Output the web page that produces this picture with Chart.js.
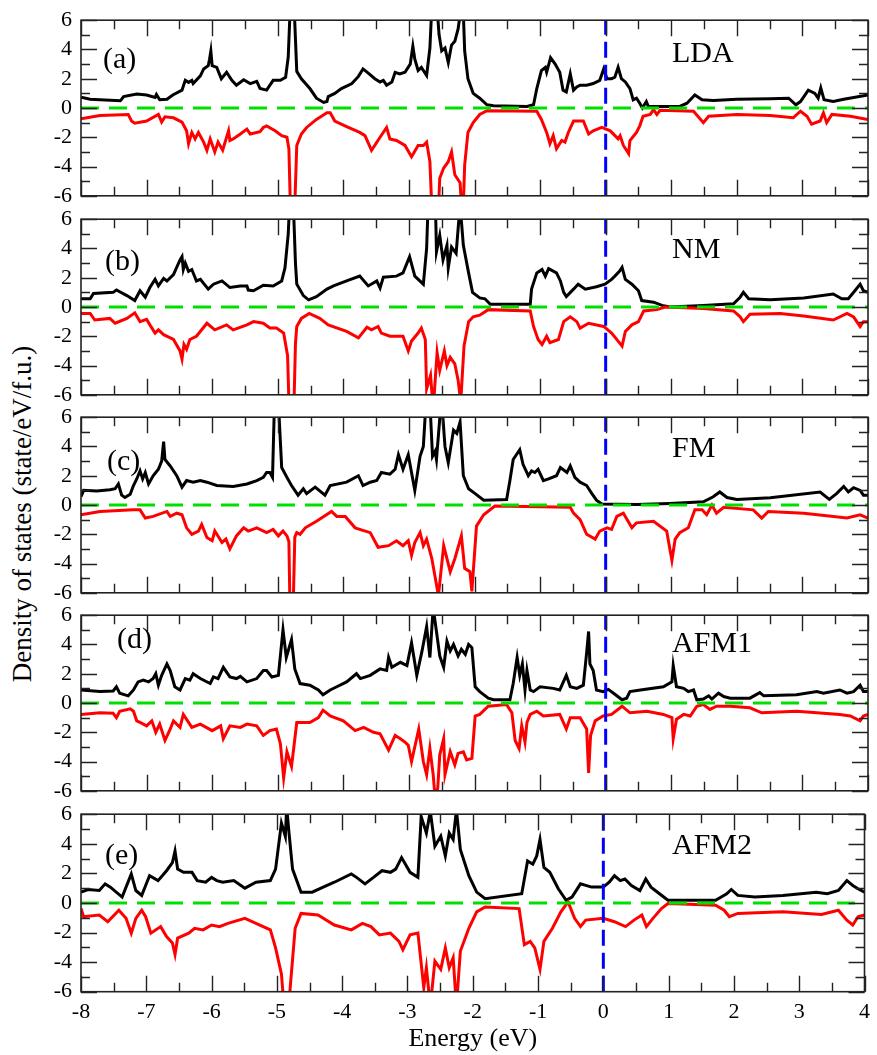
<!DOCTYPE html>
<html>
<head>
<meta charset="utf-8">
<script src="https://cdn.jsdelivr.net/npm/chart.js@4/dist/chart.umd.min.js"></script>
<style>
  html, body { margin: 0; padding: 0; background: #fff; overflow: hidden; }
  #wrap { position: relative; width: 877px; height: 1055px; }
  #wrap canvas { position: absolute; left: 0; }
  #ytitle {
    position: absolute; left: 22px; top: 514px;
    transform: translate(-50%, -50%) rotate(-90deg);
    font: 27px "Liberation Serif", "DejaVu Serif", serif;
    white-space: nowrap; color: #000;
  }
</style>
</head>
<body>
<div id="wrap">
  <div id="ytitle">Density of states (state/eV/f.u.)</div>
</div>
<script>
// Spin-resolved DOS, [energy (eV), DOS] pairs; up = black, down = red
const upLDA = [[-8,0.73],[-7.86,0.6],[-7.71,0.56],[-7.4,0.49],[-7.35,0.78],[-7.15,0.96],[-7.0,0.89],[-6.87,0.72],[-6.85,0.92],[-6.8,0.56],[-6.69,0.6],[-6.6,0.89],[-6.46,1.22],[-6.41,1.89],[-6.36,1.75],[-6.31,1.89],[-6.29,1.67],[-6.18,2.2],[-6.13,2.67],[-6.06,2.89],[-6.04,3.33],[-6.02,3.89],[-6.0,2.9],[-5.93,2.78],[-5.86,2.0],[-5.78,2.44],[-5.7,1.89],[-5.63,1.56],[-5.52,1.93],[-5.42,1.67],[-5.32,1.82],[-5.27,1.33],[-5.17,1.22],[-5.07,1.89],[-4.96,1.89],[-4.88,2.1],[-4.84,3.5],[-4.8,8],[-4.76,8],[-4.71,2.5],[-4.64,2.0],[-4.51,1.33],[-4.41,0.67],[-4.3,0.38],[-4.25,0.44],[-4.23,0.78],[-4.13,1.0],[-4.03,1.33],[-3.95,1.49],[-3.87,1.67],[-3.77,2.16],[-3.7,2.67],[-3.62,2.38],[-3.52,2.0],[-3.44,1.78],[-3.39,1.89],[-3.34,1.56],[-3.26,1.78],[-3.21,2.44],[-3.14,2.33],[-3.06,2.44],[-2.98,3.0],[-2.94,4.22],[-2.91,3.33],[-2.86,2.56],[-2.81,2.78],[-2.73,2.22],[-2.68,4.1],[-2.64,8],[-2.6,7],[-2.56,6.2],[-2.54,5.0],[-2.5,3.9],[-2.45,4.1],[-2.4,3.1],[-2.35,4.3],[-2.3,4.56],[-2.25,5.4],[-2.2,7],[-2.17,6.5],[-2.15,3.9],[-2.1,2.0],[-2.02,1.0],[-1.92,0.67],[-1.81,0.22],[-1.71,0.16],[-1.2,0.11],[-1.1,0.22],[-1.05,1.33],[-0.98,2.56],[-0.92,2.78],[-0.9,2.44],[-0.84,3.44],[-0.77,3.0],[-0.7,2.44],[-0.65,1.22],[-0.6,1.1],[-0.54,2.33],[-0.49,1.22],[-0.44,1.44],[-0.39,1.56],[-0.29,1.56],[-0.19,1.67],[-0.09,1.89],[-0.03,2.67],[0.02,2.0],[0.09,2.0],[0.14,2.1],[0.19,2.78],[0.24,2.0],[0.3,1.78],[0.37,1.33],[0.42,0.56],[0.47,0.67],[0.52,0.33],[0.56,0.0],[0.62,0.44],[0.65,0.11],[0.83,0.11],[1.13,0.11],[1.24,0.33],[1.36,0.89],[1.47,0.56],[1.64,0.51],[2.0,0.6],[2.51,0.64],[2.79,0.67],[2.9,0.22],[2.97,0.44],[3.09,1.22],[3.19,1.0],[3.24,0.67],[3.28,1.38],[3.33,0.56],[3.47,0.44],[3.63,0.6],[4.0,0.89]];
const dnLDA = [[-8,-0.73],[-7.71,-0.51],[-7.28,-0.44],[-7.23,-0.89],[-7.18,-1.04],[-7.0,-0.89],[-6.82,-0.44],[-6.77,-0.96],[-6.72,-0.6],[-6.59,-0.67],[-6.46,-0.96],[-6.39,-1.56],[-6.36,-2.44],[-6.31,-1.67],[-6.26,-2.11],[-6.21,-1.67],[-6.13,-2.33],[-6.08,-2.89],[-6.03,-2.11],[-5.96,-3.0],[-5.91,-2.33],[-5.84,-2.89],[-5.75,-1.56],[-5.73,-2.22],[-5.68,-2.11],[-5.57,-1.78],[-5.47,-1.44],[-5.42,-1.78],[-5.27,-1.62],[-5.22,-1.33],[-5.17,-1.22],[-5.04,-1.56],[-4.94,-1.89],[-4.86,-2.0],[-4.83,-2.8],[-4.8,-8],[-4.75,-8],[-4.71,-2.56],[-4.64,-1.78],[-4.56,-1.33],[-4.41,-0.78],[-4.25,-0.33],[-4.2,-0.33],[-4.13,-0.89],[-3.95,-1.27],[-3.75,-1.67],[-3.67,-1.89],[-3.57,-2.89],[-3.44,-2.0],[-3.34,-1.33],[-3.29,-2.11],[-3.19,-2.22],[-3.06,-2.56],[-2.96,-3.33],[-2.86,-2.56],[-2.78,-2.56],[-2.73,-2.33],[-2.68,-3.67],[-2.64,-8],[-2.56,-8],[-2.53,-4.8],[-2.47,-4.1],[-2.4,-3.67],[-2.35,-3.0],[-2.3,-4.56],[-2.22,-5.1],[-2.18,-8],[-2.15,-3.9],[-2.1,-1.67],[-2.02,-1.0],[-1.92,-0.44],[-1.81,-0.18],[-1.05,-0.22],[-0.98,-0.78],[-0.9,-1.67],[-0.85,-2.44],[-0.8,-1.89],[-0.75,-2.78],[-0.67,-2.22],[-0.62,-2.33],[-0.57,-1.67],[-0.49,-0.89],[-0.34,-0.89],[-0.26,-1.78],[-0.19,-1.56],[-0.06,-1.33],[0.07,-1.56],[0.19,-2.11],[0.22,-1.9],[0.27,-2.56],[0.35,-3.11],[0.37,-2.22],[0.47,-1.67],[0.52,-1.22],[0.57,-0.56],[0.68,-0.44],[0.73,-0.11],[0.78,-0.44],[0.83,-0.16],[1.34,-0.22],[1.49,-1.0],[1.57,-0.56],[2.0,-0.44],[2.51,-0.51],[2.86,-0.67],[2.97,-0.22],[3.07,-0.56],[3.14,-1.11],[3.27,-0.89],[3.32,-0.33],[3.37,-1.0],[3.45,-0.44],[3.73,-0.56],[4.0,-0.78]];

const upNM = [[-8,0.56],[-7.86,0.56],[-7.81,0.93],[-7.51,1.0],[-7.46,1.16],[-7.3,0.78],[-7.18,0.44],[-7.1,1.11],[-7.02,0.67],[-6.95,1.33],[-6.87,1.89],[-6.82,1.44],[-6.74,1.96],[-6.69,1.78],[-6.59,2.22],[-6.49,3.22],[-6.46,3.44],[-6.44,2.56],[-6.41,3.0],[-6.36,2.44],[-6.31,2.56],[-6.24,1.78],[-6.18,1.89],[-6.06,1.22],[-5.98,1.56],[-5.85,1.78],[-5.73,1.33],[-5.57,1.44],[-5.47,1.44],[-5.45,1.16],[-5.37,1.11],[-5.22,1.49],[-5.07,1.44],[-4.94,1.78],[-4.89,2.67],[-4.84,5],[-4.81,8],[-4.77,8],[-4.73,3],[-4.71,1.56],[-4.61,0.78],[-4.53,0.49],[-4.41,0.71],[-4.25,1.22],[-4.15,1.44],[-3.95,1.78],[-3.75,2.11],[-3.62,1.44],[-3.49,1.78],[-3.44,1.29],[-3.39,2.04],[-3.19,2.11],[-3.09,2.33],[-2.99,3.44],[-2.91,2.11],[-2.78,1.56],[-2.73,4],[-2.7,8],[-2.6,8],[-2.58,3.78],[-2.53,4.9],[-2.48,3.22],[-2.42,4.22],[-2.4,2.67],[-2.35,4.1],[-2.28,3.67],[-2.22,7],[-2.17,4.22],[-2.09,2.33],[-2.03,1.0],[-1.92,0.62],[-1.84,0.56],[-1.76,0.18],[-1.15,0.18],[-1.13,1.22],[-1.05,2.33],[-0.97,2.56],[-0.92,2.11],[-0.87,2.62],[-0.75,2.33],[-0.69,1.78],[-0.64,1.0],[-0.6,0.71],[-0.49,1.22],[-0.42,1.56],[-0.31,1.22],[-0.14,1.38],[-0.01,1.56],[0.09,1.89],[0.14,2.11],[0.21,2.44],[0.25,2.71],[0.3,1.89],[0.4,1.56],[0.5,1.11],[0.55,0.44],[0.73,0.33],[0.86,0.11],[0.98,0.0],[1.49,0.11],[1.95,0.22],[2.05,0.67],[2.1,1.0],[2.18,0.56],[2.51,0.49],[3.02,0.62],[3.47,0.89],[3.6,0.56],[3.7,0.56],[3.8,1.11],[3.88,1.56],[3.93,1.11],[4.0,1.0]];
const dnNM = [[-8,-0.44],[-7.86,-0.44],[-7.79,-0.89],[-7.56,-0.78],[-7.48,-1.11],[-7.3,-0.78],[-7.18,-0.4],[-7.1,-1.0],[-7.0,-0.84],[-6.95,-1.22],[-6.87,-1.78],[-6.82,-1.56],[-6.74,-1.89],[-6.59,-2.22],[-6.49,-3.0],[-6.46,-3.56],[-6.43,-2.56],[-6.39,-2.89],[-6.34,-2.22],[-6.24,-2.0],[-6.08,-1.11],[-5.96,-1.56],[-5.78,-1.22],[-5.68,-1.56],[-5.47,-1.22],[-5.37,-1.0],[-5.22,-1.11],[-5.12,-1.44],[-5.02,-1.44],[-4.91,-1.78],[-4.85,-3.33],[-4.82,-8],[-4.76,-8],[-4.73,-2.5],[-4.71,-1.33],[-4.64,-0.78],[-4.52,-0.44],[-4.36,-0.78],[-4.23,-1.22],[-3.95,-1.67],[-3.77,-2.11],[-3.64,-1.38],[-3.57,-1.56],[-3.47,-1.33],[-3.42,-1.78],[-3.29,-2.0],[-3.09,-2.0],[-3.01,-3.0],[-2.96,-2.33],[-2.86,-1.78],[-2.81,-1.44],[-2.75,-2.22],[-2.73,-5.6],[-2.67,-4.67],[-2.63,-7],[-2.57,-3.11],[-2.53,-4.33],[-2.46,-3.0],[-2.42,-4.0],[-2.37,-3.44],[-2.3,-3.89],[-2.25,-5.0],[-2.21,-6.5],[-2.16,-2.67],[-2.09,-1.0],[-2.02,-0.67],[-1.92,-0.56],[-1.79,-0.18],[-1.15,-0.27],[-1.1,-1.33],[-1.03,-2.22],[-0.97,-2.56],[-0.9,-2.0],[-0.85,-2.44],[-0.72,-2.22],[-0.64,-1.0],[-0.54,-0.67],[-0.44,-1.0],[-0.39,-1.44],[-0.26,-1.11],[-0.03,-1.33],[0.09,-1.78],[0.19,-2.33],[0.25,-2.67],[0.3,-1.67],[0.4,-1.22],[0.5,-1.0],[0.58,-0.27],[0.78,-0.18],[0.91,0],[1.49,-0.11],[1.95,-0.27],[2.05,-0.67],[2.1,-1.0],[2.2,-0.49],[2.66,-0.44],[3.02,-0.62],[3.47,-0.89],[3.68,-0.44],[3.78,-0.67],[3.88,-1.33],[3.93,-1.0],[4.0,-1.0]];

const upFM = [[-8,0.56],[-7.96,1.0],[-7.76,0.96],[-7.56,1.04],[-7.48,1.11],[-7.43,1.44],[-7.38,0.67],[-7.33,0.51],[-7.25,0.73],[-7.2,1.33],[-7.15,1.78],[-7.1,2.33],[-7.06,1.78],[-7.02,2.22],[-6.97,1.44],[-6.9,2.0],[-6.82,2.44],[-6.77,3.0],[-6.74,4.33],[-6.72,3.11],[-6.64,2.67],[-6.54,2.0],[-6.46,1.22],[-6.39,1.67],[-6.29,1.56],[-6.18,1.67],[-6.08,1.56],[-5.93,1.33],[-5.68,1.27],[-5.47,1.44],[-5.32,1.67],[-5.22,1.89],[-5.17,2.22],[-5.12,2.22],[-5.08,1.89],[-5.05,7],[-4.99,7],[-4.94,2.56],[-4.86,1.89],[-4.79,1.33],[-4.69,0.67],[-4.61,1.11],[-4.56,0.78],[-4.43,1.22],[-4.28,0.67],[-4.2,1.33],[-3.95,1.56],[-3.77,2.0],[-3.7,1.33],[-3.59,1.56],[-3.49,1.67],[-3.42,2.22],[-3.29,2.11],[-3.21,2.44],[-3.16,3.44],[-3.09,2.44],[-3.01,3.44],[-2.91,1.0],[-2.83,3.33],[-2.78,4.0],[-2.74,7],[-2.68,7],[-2.64,3.33],[-2.6,3.67],[-2.58,3.11],[-2.51,7],[-2.49,6.5],[-2.45,4.0],[-2.4,2.89],[-2.32,5.11],[-2.27,4.89],[-2.22,5.67],[-2.17,2.0],[-2.09,1.11],[-1.99,0.78],[-1.86,0.33],[-1.51,0.38],[-1.46,1.67],[-1.41,3.11],[-1.31,3.78],[-1.26,2.78],[-1.18,2.0],[-1.13,2.33],[-1.08,2.22],[-1.03,2.44],[-0.95,1.67],[-0.87,1.78],[-0.75,2.0],[-0.69,2.56],[-0.59,2.22],[-0.54,2.67],[-0.47,1.89],[-0.39,1.56],[-0.29,1.33],[-0.21,0.78],[-0.14,0.33],[-0.06,0.07],[0.47,0.04],[0.98,0.11],[1.49,0.22],[1.64,0.56],[1.74,0.89],[1.85,0.51],[2.0,0.38],[2.51,0.49],[3.27,0.89],[3.41,0.38],[3.52,0.78],[3.63,1.27],[3.7,0.89],[3.78,1.18],[3.88,1.0],[3.93,0.67],[4.0,0.67]];
const dnFM = [[-8,-0.67],[-7.71,-0.44],[-7.2,-0.33],[-7.1,-0.33],[-7.02,-0.89],[-6.9,-0.78],[-6.69,-0.44],[-6.64,-0.78],[-6.54,-0.56],[-6.46,-0.67],[-6.39,-1.56],[-6.31,-2.0],[-6.21,-1.78],[-6.16,-1.33],[-6.08,-2.22],[-6.0,-2.44],[-5.96,-1.78],[-5.85,-2.56],[-5.79,-2.33],[-5.73,-3.0],[-5.63,-2.11],[-5.52,-1.56],[-5.45,-1.78],[-5.32,-1.56],[-5.17,-1.89],[-5.07,-1.67],[-4.99,-2.11],[-4.92,-1.78],[-4.86,-2.11],[-4.83,-2.5],[-4.81,-8],[-4.77,-8],[-4.74,-2.2],[-4.71,-1.89],[-4.66,-2.0],[-4.58,-1.56],[-4.41,-1.11],[-4.18,-0.44],[-4.1,-0.78],[-3.97,-0.78],[-3.82,-1.56],[-3.59,-1.89],[-3.47,-2.89],[-3.31,-2.78],[-3.19,-2.44],[-3.09,-2.78],[-3.01,-2.44],[-2.96,-3.44],[-2.91,-2.56],[-2.83,-1.89],[-2.78,-2.78],[-2.73,-2.33],[-2.65,-3.67],[-2.55,-6.2],[-2.47,-2.78],[-2.37,-4.56],[-2.3,-3.67],[-2.2,-2.11],[-2.15,-4.33],[-2.07,-4.56],[-2.04,-5.9],[-1.97,-1.44],[-1.86,-0.67],[-1.69,-0.07],[-0.54,-0.16],[-0.49,-0.56],[-0.39,-1.0],[-0.29,-2.0],[-0.16,-2.33],[-0.09,-1.78],[0.02,-1.56],[0.09,-1.67],[0.17,-0.78],[0.27,-0.56],[0.4,-1.56],[0.47,-1.22],[0.73,-1.11],[0.93,-1.78],[1.01,-3.78],[1.06,-2.33],[1.13,-1.89],[1.26,-1.56],[1.36,-0.33],[1.47,-0.33],[1.54,-0.67],[1.62,0],[1.69,-0.56],[1.8,-0.16],[2.25,-0.33],[2.38,-0.89],[2.48,-0.44],[3.02,-0.56],[3.68,-0.89],[3.88,-0.67],[4.0,-0.89]];

const upAFM1 = [[-8,0.89],[-7.71,0.78],[-7.51,0.82],[-7.46,1.11],[-7.41,0.67],[-7.28,0.49],[-7.2,0.89],[-7.13,1.44],[-7.05,1.56],[-6.97,1.44],[-6.9,1.67],[-6.86,2.0],[-6.82,1.22],[-6.77,1.89],[-6.69,2.67],[-6.64,2.22],[-6.57,1.11],[-6.49,0.89],[-6.41,1.67],[-6.34,1.56],[-6.29,2.0],[-6.18,1.67],[-6.03,1.33],[-5.98,1.78],[-5.91,1.67],[-5.83,2.44],[-5.73,1.78],[-5.63,1.67],[-5.57,1.82],[-5.47,1.44],[-5.32,1.67],[-5.22,2.22],[-5.17,2.22],[-5.09,1.78],[-4.99,1.89],[-4.92,5.0],[-4.87,3.11],[-4.79,4.33],[-4.74,2.33],[-4.66,1.33],[-4.51,1.22],[-4.38,0.89],[-4.31,0.56],[-4.2,0.89],[-4.1,1.11],[-3.95,1.44],[-3.8,2.0],[-3.74,1.67],[-3.59,1.89],[-3.44,2.33],[-3.34,2.22],[-3.31,3.11],[-3.26,2.44],[-3.13,2.78],[-3.03,2.56],[-2.96,4.11],[-2.88,1.89],[-2.8,3.56],[-2.73,5.22],[-2.68,3.11],[-2.63,6.5],[-2.58,4.89],[-2.53,3.22],[-2.47,2.44],[-2.42,4.22],[-2.37,3.56],[-2.32,4.0],[-2.25,3.22],[-2.2,3.67],[-2.14,3.33],[-2.09,4.0],[-2.04,3.78],[-1.99,1.11],[-1.92,0.78],[-1.79,0.33],[-1.71,0.22],[-1.46,0.22],[-1.41,1.33],[-1.35,3.11],[-1.31,1.89],[-1.27,2.67],[-1.23,0.89],[-1.2,2.22],[-1.15,0.89],[-1.1,0.78],[-1.0,1.11],[-0.8,1.0],[-0.7,0.89],[-0.6,1.89],[-0.54,1.11],[-0.44,1.0],[-0.34,1.22],[-0.29,3.44],[-0.26,4.89],[-0.24,2.67],[-0.19,2.22],[-0.14,0.89],[-0.04,0.78],[0.04,0.93],[0.12,0.67],[0.25,0.22],[0.32,0.33],[0.37,0.78],[0.53,0.89],[0.88,1.11],[1.01,1.44],[1.03,2.56],[1.08,1.11],[1.19,1.0],[1.26,0.78],[1.34,0.89],[1.39,0.22],[1.49,0.27],[1.57,0.49],[1.62,0.27],[1.72,0.67],[1.8,0.44],[1.9,0.33],[2.2,0.33],[2.35,0.71],[2.41,0.49],[2.91,0.56],[3.22,0.78],[3.32,0.67],[3.57,0.89],[3.68,0.67],[3.78,0.78],[3.88,1.22],[3.93,0.78],[4.0,0.78]];
const dnAFM1 = [[-8,-0.78],[-7.71,-0.67],[-7.51,-0.7],[-7.46,-1.0],[-7.41,-0.56],[-7.25,-0.4],[-7.2,-0.56],[-7.15,-1.22],[-7.1,-1.33],[-7.0,-1.56],[-6.92,-1.22],[-6.86,-2.0],[-6.8,-1.44],[-6.72,-2.56],[-6.64,-1.78],[-6.59,-1.22],[-6.49,-1.67],[-6.44,-0.78],[-6.31,-1.67],[-6.18,-1.44],[-6.0,-1.89],[-5.87,-1.56],[-5.83,-2.44],[-5.73,-1.56],[-5.57,-1.67],[-5.47,-1.44],[-5.32,-1.56],[-5.22,-2.22],[-5.12,-1.89],[-5.02,-1.78],[-4.96,-2.78],[-4.91,-5.11],[-4.86,-3.33],[-4.79,-4.33],[-4.71,-1.33],[-4.51,-1.33],[-4.38,-1.0],[-4.31,-0.49],[-4.2,-0.89],[-4.0,-1.22],[-3.82,-1.89],[-3.69,-1.67],[-3.54,-2.0],[-3.44,-2.11],[-3.31,-3.22],[-3.21,-2.22],[-3.13,-2.44],[-3.06,-2.67],[-3.01,-2.89],[-2.96,-4.0],[-2.85,-1.78],[-2.78,-4.0],[-2.73,-4.89],[-2.68,-3.11],[-2.63,-4.89],[-2.6,-6.5],[-2.56,-5.8],[-2.53,-3.56],[-2.47,-2.44],[-2.45,-4.89],[-2.37,-3.33],[-2.3,-4.22],[-2.25,-3.44],[-2.17,-3.33],[-2.12,-3.89],[-2.04,-3.78],[-1.99,-0.89],[-1.92,-0.78],[-1.79,-0.22],[-1.51,-0.11],[-1.43,-0.67],[-1.38,-2.56],[-1.32,-3.11],[-1.28,-1.56],[-1.23,-2.67],[-1.2,-1.33],[-1.15,-0.78],[-1.05,-0.56],[-0.95,-0.89],[-0.7,-0.78],[-0.6,-1.78],[-0.54,-1.0],[-0.39,-1.0],[-0.29,-1.78],[-0.26,-4.78],[-0.23,-2.22],[-0.16,-1.22],[-0.04,-0.89],[0.09,-0.78],[0.25,-0.22],[0.37,-0.67],[0.63,-0.56],[0.88,-0.78],[1.01,-1.0],[1.03,-2.44],[1.08,-1.11],[1.19,-0.78],[1.29,-0.89],[1.39,-0.22],[1.49,-0.11],[1.59,-0.44],[1.69,-0.22],[1.9,-0.22],[2.2,-0.33],[2.38,-0.67],[2.91,-0.56],[3.22,-0.67],[3.57,-0.78],[3.73,-0.89],[3.88,-1.22],[3.93,-0.89],[4.0,-0.78]];

const upAFM2 = [[-8,0.73],[-7.89,0.91],[-7.72,0.84],[-7.63,1.29],[-7.55,1.07],[-7.37,0.4],[-7.31,1.07],[-7.23,1.96],[-7.16,0.84],[-7.07,0.51],[-7.01,1.18],[-6.95,1.84],[-6.82,1.51],[-6.69,2.18],[-6.6,2.73],[-6.56,3.51],[-6.52,2.29],[-6.43,2.07],[-6.3,2.07],[-6.22,1.51],[-6.09,1.4],[-6.0,1.73],[-5.92,1.51],[-5.83,1.4],[-5.66,1.51],[-5.49,1.0],[-5.32,1.4],[-5.1,1.51],[-5.02,2.29],[-4.93,5.4],[-4.87,4.5],[-4.85,6.5],[-4.82,5],[-4.76,2.29],[-4.63,0.73],[-4.46,0.73],[-4.29,1.07],[-4.12,1.4],[-3.86,1.96],[-3.78,1.73],[-3.65,1.29],[-3.52,1.73],[-3.39,2.18],[-3.26,2.07],[-3.18,2.29],[-3.09,3.07],[-2.96,2.07],[-2.84,1.73],[-2.79,5.84],[-2.71,4.73],[-2.65,6.2],[-2.58,3.84],[-2.49,4.51],[-2.42,3.18],[-2.36,4.73],[-2.3,4.29],[-2.25,6.3],[-2.19,3.62],[-2.06,1.84],[-1.94,0.73],[-1.81,0.29],[-1.25,0.62],[-1.16,2.84],[-1.08,2.62],[-1.02,3.18],[-0.97,4.29],[-0.91,2.4],[-0.82,2.07],[-0.69,0.96],[-0.57,0.18],[-0.48,0.4],[-0.35,1.29],[-0.18,1.07],[0.0,1.07],[0.09,1.4],[0.17,1.84],[0.26,1.51],[0.33,1.62],[0.43,1.18],[0.56,0.84],[0.65,1.62],[0.73,1.07],[0.86,0.62],[0.99,0.18],[1.72,0.18],[1.89,0.62],[1.96,0.91],[2.06,0.51],[2.32,0.4],[2.75,0.51],[3.26,0.73],[3.43,0.62],[3.6,0.84],[3.73,1.51],[3.82,1.18],[3.9,0.96],[4.0,0.73]];
const dnAFM2 = [[-8,-0.38],[-7.96,-0.93],[-7.72,-0.82],[-7.59,-1.27],[-7.42,-0.49],[-7.31,-1.04],[-7.23,-2.04],[-7.16,-1.04],[-7.07,-0.49],[-7.01,-0.93],[-6.93,-2.04],[-6.78,-1.6],[-6.69,-2.27],[-6.6,-2.71],[-6.56,-3.49],[-6.52,-2.38],[-6.35,-2.04],[-6.26,-1.71],[-6.13,-1.82],[-6.0,-1.49],[-5.88,-1.6],[-5.75,-1.38],[-5.49,-1.04],[-5.32,-1.38],[-5.1,-1.82],[-5.02,-3.04],[-4.93,-4.82],[-4.89,-7],[-4.82,-7],[-4.72,-1.71],[-4.63,-0.71],[-4.37,-0.82],[-4.12,-1.49],[-3.86,-1.82],[-3.69,-1.38],[-3.56,-1.6],[-3.43,-2.16],[-3.26,-2.04],[-3.13,-2.6],[-3.07,-3.16],[-2.96,-2.16],[-2.84,-2.04],[-2.75,-5.71],[-2.71,-4.38],[-2.65,-7],[-2.58,-3.93],[-2.49,-4.49],[-2.42,-3.04],[-2.36,-4.38],[-2.3,-3.71],[-2.25,-7],[-2.19,-3.27],[-2.06,-1.71],[-1.94,-0.6],[-1.81,-0.27],[-1.29,-0.38],[-1.21,-2.82],[-1.12,-2.6],[-1.05,-3.04],[-0.97,-4.49],[-0.91,-2.6],[-0.78,-1.71],[-0.65,-0.6],[-0.54,0.07],[-0.44,-1.04],[-0.35,-1.6],[-0.27,-1.16],[0.0,-1.04],[0.17,-1.27],[0.34,-1.6],[0.47,-1.16],[0.59,-0.82],[0.66,-1.6],[0.76,-1.04],[0.89,-0.38],[0.99,-0.04],[1.72,-0.16],[1.85,-0.49],[1.93,-0.93],[2.06,-0.71],[2.75,-0.6],[3.34,-0.78],[3.6,-0.49],[3.73,-1.16],[3.82,-1.49],[3.9,-0.93],[4.0,-0.82]];

const panelTags = ['(a)', '(b)', '(c)', '(d)', '(e)'];
const panelNames = ['LDA', 'NM', 'FM', 'AFM1', 'AFM2'];
const upSets = [upLDA, upNM, upFM, upAFM1, upAFM2];
const dnSets = [dnLDA, dnNM, dnFM, dnAFM1, dnAFM2];
const xTicks = { min: -8, max: 4, step: 1 };
const yTicks = { min: -6, max: 6, step: 2 };
const fermiLevel = 0;

// layout in page pixels
const panelTop = [18.3, 216.7, 415, 613.3, 811.7];
const panelH = 180;
const plotLeft = 81, plotRight = 868;
const tagPos = [[103, 48], [105, 51], [107, 52.6], [117, 33], [105, 50]];
const namePos = [[672, 42], [672, 38.5], [672, 40], [672, 37], [672, 40]];
const serif = '"Liberation Serif", "Times New Roman", serif';

const pts = arr => arr.map(p => ({ x: p[0], y: p[1] }));

// frame, inward ticks on all four sides, panel captions
const framePlugin = {
  id: 'frame',
  afterDatasetsDraw(chart, args, opts) {
    const { ctx, chartArea: a, scales: { x, y } } = chart;
    ctx.save();
    ctx.strokeStyle = '#222';
    ctx.lineWidth = 1.6;
    ctx.strokeRect(a.left, a.top, a.right - a.left, a.bottom - a.top);
    ctx.lineWidth = 1.4;
    ctx.beginPath();
    for (let v = xTicks.min; v <= xTicks.max + 1e-9; v += 0.5) {
      const px = Math.round(x.getPixelForValue(v)) + 0.5;
      const len = Number.isInteger(v) ? 16 : 9;
      ctx.moveTo(px, a.bottom); ctx.lineTo(px, a.bottom - len);
      ctx.moveTo(px, a.top); ctx.lineTo(px, a.top + len);
    }
    for (let v = yTicks.min; v <= yTicks.max; v += 1) {
      const py = Math.round(y.getPixelForValue(v)) + 0.5;
      const len = v % 2 === 0 ? 16 : 9;
      ctx.moveTo(a.left, py); ctx.lineTo(a.left + len, py);
      ctx.moveTo(a.right, py); ctx.lineTo(a.right - len, py);
    }
    ctx.stroke();
    ctx.fillStyle = '#000';
    ctx.font = '30px ' + serif;
    ctx.textBaseline = 'alphabetic';
    ctx.textAlign = 'left';
    ctx.fillText(opts.tag, opts.tagX, a.top + opts.tagY);
    ctx.fillText(opts.name, opts.nameX, a.top + opts.nameY);
    ctx.restore();
  }
};

const wrap = document.getElementById('wrap');

panelNames.forEach((name, i) => {
  const last = i === panelNames.length - 1;
  const padTop = 20;
  const canvasTop = panelTop[i] - padTop;
  const canvasH = last ? 1055 - canvasTop : panelH + 40;
  const cv = document.createElement('canvas');
  cv.width = 877;
  cv.height = Math.round(canvasH);
  cv.style.top = canvasTop + 'px';
  wrap.appendChild(cv);

  new Chart(cv, {
    type: 'scatter',
    data: {
      datasets: [
        {
          data: [{ x: fermiLevel, y: yTicks.min }, { x: fermiLevel, y: yTicks.max }],
          borderColor: '#0000ff', borderWidth: 3, borderDash: [16, 7],
          showLine: true, pointRadius: 0
        },
        {
          data: [{ x: xTicks.min, y: 0 }, { x: xTicks.max, y: 0 }],
          borderColor: '#00e000', borderWidth: 3, borderDash: [18, 10],
          showLine: true, pointRadius: 0
        },
        {
          data: pts(dnSets[i]),
          borderColor: '#ff0000', borderWidth: 3,
          showLine: true, pointRadius: 0, tension: 0
        },
        {
          data: pts(upSets[i]),
          borderColor: '#000000', borderWidth: 3,
          showLine: true, pointRadius: 0, tension: 0
        }
      ]
    },
    options: {
      responsive: false,
      animation: false,
      devicePixelRatio: 1,
      layout: { padding: { left: 0, right: 877 - plotRight, top: padTop, bottom: last ? 0 : 20 } },
      plugins: {
        legend: { display: false },
        tooltip: { enabled: false },
        frame: {
          tag: panelTags[i], tagX: tagPos[i][0], tagY: tagPos[i][1],
          name: name, nameX: namePos[i][0], nameY: namePos[i][1]
        }
      },
      scales: {
        x: {
          type: 'linear',
          min: xTicks.min, max: xTicks.max,
          display: last,
          grid: { display: false, drawTicks: false },
          border: { display: false },
          ticks: {
            stepSize: xTicks.step, color: '#000', padding: 7,
            font: { family: serif, size: 22 },
            callback: v => String(v)
          },
          title: {
            display: true, text: 'Energy (eV)', color: '#000',
            font: { family: serif, size: 26 }, padding: { top: 1, bottom: 0 }
          },
          afterFit: s => { if (last) s.height = 1055 - (panelTop[4] + panelH); }
        },
        y: {
          min: yTicks.min, max: yTicks.max,
          grid: { display: false, drawTicks: false },
          border: { display: false },
          ticks: {
            stepSize: yTicks.step, color: '#000', padding: 9,
            font: { family: serif, size: 22 },
            callback: v => String(v)
          },
          afterFit: s => { s.width = plotLeft; }
        }
      }
    },
    plugins: [framePlugin]
  });
});
</script>
</body>
</html>
